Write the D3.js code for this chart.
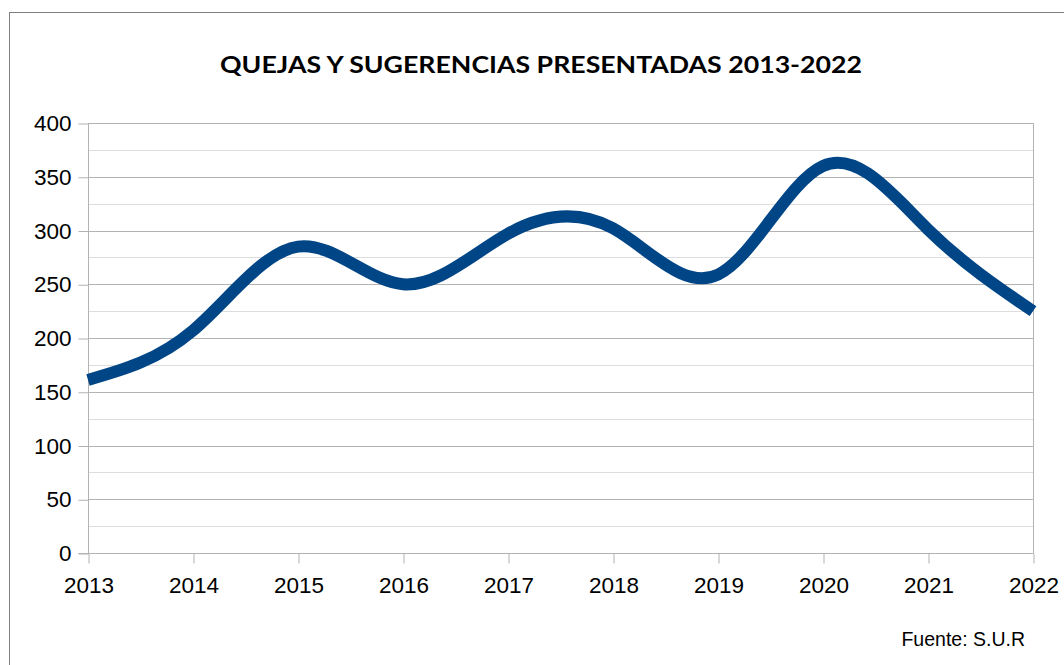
<!DOCTYPE html>
<html>
<head>
<meta charset="utf-8">
<script src="https://cdn.jsdelivr.net/npm/d3@7"></script>
<style>
body { margin:0; background:#fff; }
svg { display:block; }
</style>
</head>
<body>
<div id="chart"></div>
<script>
// datos
var years = [2013, 2014, 2015, 2016, 2017, 2018, 2019, 2020, 2021, 2022];
var quejas = [161, 207, 285, 250, 297, 302, 259, 360, 301, 225];
var yTicks = [0, 50, 100, 150, 200, 250, 300, 350, 400];
var yMinor = [25, 75, 125, 175, 225, 275, 325, 375];
var title = "QUEJAS Y SUGERENCIAS PRESENTADAS 2013-2022";
var fuente = "Fuente: S.U.R";

var W = 1064, H = 665;
var margin = {top:123, left:88, right:31, bottom:112};

var svg = d3.select("#chart").append("svg")
  .attr("width", W)
  .attr("height", H);

// marco exterior
svg.append("rect")
  .attr("x", 9.5).attr("y", 12.5)
  .attr("width", W + 20).attr("height", H + 20)
  .attr("fill", "none")
  .attr("stroke", "#808080")
  .attr("stroke-width", 1);

var x = d3.scalePoint()
  .domain(years)
  .range([margin.left, W - margin.right]);

var y = d3.scaleLinear()
  .domain([0, 400])
  .range([H - margin.bottom, margin.top]);

// lineas de cuadricula menores
svg.append("g").selectAll("line")
  .data(yMinor)
  .enter().append("line")
  .attr("x1", margin.left).attr("x2", W - margin.right)
  .attr("y1", function(d){ return Math.round(y(d)) + 0.5; })
  .attr("y2", function(d){ return Math.round(y(d)) + 0.5; })
  .attr("stroke", "#dddddd");

// lineas de cuadricula mayores
svg.append("g").selectAll("line")
  .data(yTicks)
  .enter().append("line")
  .attr("x1", margin.left).attr("x2", W - margin.right)
  .attr("y1", function(d){ return Math.round(y(d)) + 0.5; })
  .attr("y2", function(d){ return Math.round(y(d)) + 0.5; })
  .attr("stroke", "#b3b3b3");

// borde derecho del area
svg.append("line")
  .attr("x1", W - margin.right + 0.5).attr("x2", W - margin.right + 0.5)
  .attr("y1", margin.top).attr("y2", H - margin.bottom)
  .attr("stroke", "#b3b3b3");

// eje y
var yAxis = svg.append("g")
  .attr("transform", "translate(" + (margin.left + 0.5) + ",0.5)")
  .call(d3.axisLeft(y).tickValues(yTicks).tickSize(10).tickPadding(7));
yAxis.selectAll("line").attr("stroke", "#b3b3b3");
yAxis.select(".domain").attr("stroke", "#b3b3b3").attr("d", "M0," + margin.top + "V" + (H - margin.bottom) + "M-10," + (H - margin.bottom) + "H0");
yAxis.selectAll("text")
  .attr("font-family", "'Liberation Sans', Arial, sans-serif")
  .attr("font-size", 22.5)
  .attr("fill", "#000");

// eje x
var xAxis = svg.append("g")
  .attr("transform", "translate(0.5," + (H - margin.bottom + 0.5) + ")")
  .call(d3.axisBottom(x).tickSize(10).tickPadding(14).tickFormat(d3.format("d")));
xAxis.selectAll("line").attr("stroke", "#b3b3b3");
xAxis.select(".domain").attr("stroke", "#b3b3b3").attr("d", "M" + margin.left + ",0H" + (W - margin.right));
xAxis.selectAll("text")
  .attr("font-family", "'Liberation Sans', Arial, sans-serif")
  .attr("font-size", 22.5)
  .attr("fill", "#000");

// serie
var line = d3.line()
  .x(function(d, i){ return x(years[i]); })
  .y(function(d){ return y(d); })
  .curve(d3.curveNatural);

svg.append("path")
  .datum(quejas)
  .attr("d", line)
  .attr("fill", "none")
  .attr("stroke", "#004586")
  .attr("stroke-width", 12);

// titulo
svg.append("text")
  .attr("x", 541)
  .attr("y", 73)
  .attr("text-anchor", "middle")
  .attr("font-family", "Lato, 'Open Sans', sans-serif")
  .attr("font-weight", "bold")
  .attr("font-size", 23.5)
  .attr("textLength", 642)
  .attr("lengthAdjust", "spacingAndGlyphs")
  .text(title);

svg.append("text")
  .attr("x", 1025)
  .attr("y", 646)
  .attr("text-anchor", "end")
  .attr("font-family", "'Liberation Sans', Arial, sans-serif")
  .attr("font-size", 19.5)
  .attr("fill", "#000")
  .text(fuente);
</script>
</body>
</html>
